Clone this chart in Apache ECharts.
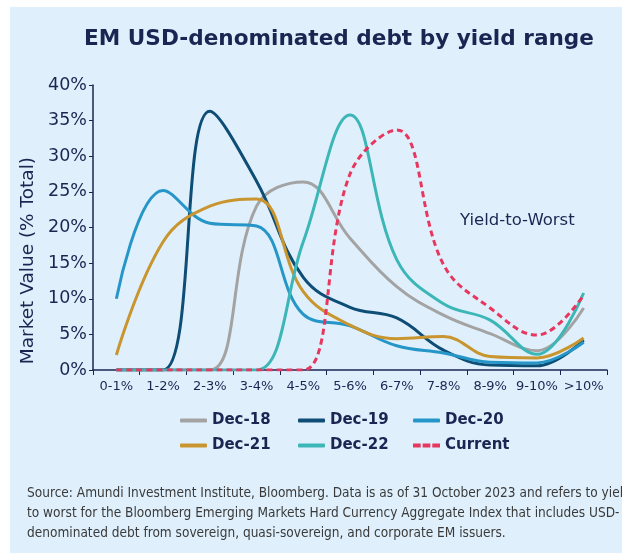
<!DOCTYPE html>
<html>
<head>
<meta charset="utf-8">
<script src="https://cdn.jsdelivr.net/npm/echarts@6/dist/echarts.min.js"></script>
<style>
  html, body { margin: 0; padding: 0; background: #ffffff; }
  #panel { position: absolute; left: 10px; top: 7px; width: 612px; height: 546px; background: #dff0fc; }
  #main { position: absolute; left: 0; top: 0; width: 622px; height: 553px; }
</style>
</head>
<body>
<div id="panel"></div>
<div id="main"></div>
<script>
// yield buckets
var categories = ['0-1%', '1-2%', '2-3%', '3-4%', '4-5%', '5-6%', '6-7%', '7-8%', '8-9%', '9-10%', '>10%'];
var yTicks = [0, 5, 10, 15, 20, 25, 30, 35, 40];

// market value share (% of total)
var dec18 = [0, 0, 0, 23, 26.4, 18.5, 11.7, 7.7, 5.1, 2.7, 8.7];
var dec19 = [0, 0, 36.3, 26.5, 13, 8.8, 7.3, 2.8, 0.7, 0.6, 4.2];
var dec20 = [10, 25.2, 20.6, 20.2, 7.8, 6.2, 3.4, 2.4, 1.1, 1.0, 3.9];
var dec21 = [2.1, 18, 23, 24, 11, 6.3, 4.4, 4.7, 1.9, 1.7, 4.5];
var dec22 = [0, 0, 0, 0, 18, 35.8, 15.5, 9.3, 7, 2.2, 10.8];
var current = [0, 0, 0, 0, 0, 27.5, 33.7, 14.8, 8.7, 4.9, 10.5];

var navy = '#1b2552';
var font = '"DejaVu Sans", sans-serif';
var dashIcon = 'path://M0,0h8v4h-8z M10,0h8v4h-8z M20,0h8v4h-8z';

var myChart = echarts.init(document.getElementById('main'));

function line(name, data, color, dashed) {
  return {
    name: name,
    type: 'line',
    data: data,
    smooth: 0.4,
    symbol: 'none',
    lineStyle: { color: color, width: 3, type: dashed ? [6, 4] : 'solid' },
    itemStyle: { color: color }
  };
}

// one vertical legend per column so the columns line up like the original
function legendCol(names, left) {
  return {
    orient: 'vertical',
    left: left, top: 413, padding: 0,
    itemWidth: 27, itemHeight: 4, itemGap: 10,
    data: names.map(function (n) {
      return { name: n, icon: n === 'Current' ? dashIcon : 'roundRect' };
    }),
    textStyle: { color: navy, fontSize: 15, fontWeight: 'bold', fontFamily: font }
  };
}

var option = {
  backgroundColor: 'transparent',
  animation: false,
  title: [
    {
      text: 'EM USD-denominated debt by yield range',
      left: 334, top: 23, textAlign: 'center',
      textStyle: { color: navy, fontSize: 21.6, fontWeight: 'bold', fontFamily: font }
    },
    {
      text: 'Source: Amundi Investment Institute, Bloomberg. Data is as of 31 October 2023 and refers to yield\n' +
            'to worst for the Bloomberg Emerging Markets Hard Currency Aggregate Index that includes USD-\n' +
            'denominated debt from sovereign, quasi-sovereign, and corporate EM issuers.',
      left: 22, top: 478,
      textStyle: { color: '#3a3a3a', fontSize: 13.55, fontWeight: 'normal', lineHeight: 20,
        fontFamily: '"Liberation Sans Narrow", "DejaVu Sans Condensed", sans-serif' }
    }
  ],
  graphic: [
    {
      type: 'text', left: 19, top: 157, rotation: Math.PI / 2,
      style: { text: 'Market Value (% Total)', fill: navy, fontSize: 18.5, fontFamily: font }
    },
    {
      type: 'text', left: 460, top: 212,
      style: { text: 'Yield-to-Worst', fill: navy, fontSize: 16.5, fontFamily: font }
    }
  ],
  legend: [
    legendCol(['Dec-18', 'Dec-21'], 180),
    legendCol(['Dec-19', 'Dec-22'], 298),
    legendCol(['Dec-20', 'Current'], 413)
  ],
  grid: { left: 93, right: 15, top: 85, bottom: 183 },
  xAxis: {
    type: 'category',
    data: categories,
    boundaryGap: true,
    axisLine: { lineStyle: { color: navy, width: 1.5 } },
    axisTick: { show: true, length: 5, lineStyle: { color: navy } },
    axisLabel: { color: navy, fontSize: 13, margin: 10, interval: 0, fontFamily: font },
    splitLine: { show: false }
  },
  yAxis: {
    type: 'value',
    min: yTicks[0], max: yTicks[yTicks.length - 1], interval: 5,
    axisLine: { show: true, lineStyle: { color: navy, width: 1.5 } },
    axisTick: { show: true, length: 4, lineStyle: { color: navy } },
    axisLabel: { color: navy, fontSize: 17.5, margin: 6, formatter: '{value}%', fontFamily: font },
    splitLine: { show: false }
  },
  series: [
    line('Dec-18', dec18, '#a3a3a3'),
    line('Dec-19', dec19, '#0e4d75'),
    line('Dec-20', dec20, '#2596c7'),
    line('Dec-21', dec21, '#c8952f'),
    line('Dec-22', dec22, '#3cb6b6'),
    line('Current', current, '#e8375f', true)
  ]
};

myChart.setOption(option);
</script>
</body>
</html>
